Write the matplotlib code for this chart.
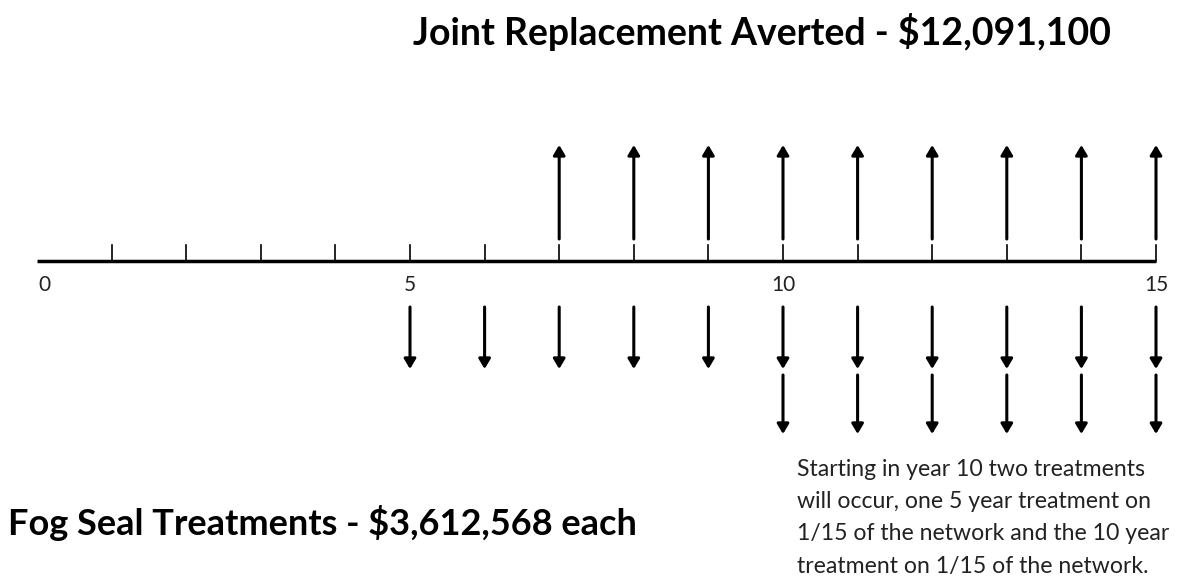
import matplotlib.pyplot as plt

# cash flow diagram, years 0..15
years = list(range(16))
joint_years = [7, 8, 9, 10, 11, 12, 13, 14, 15]
fog_5yr_years = [5, 6, 7, 8, 9, 10, 11, 12, 13, 14, 15]
fog_10yr_years = [10, 11, 12, 13, 14, 15]
labelled_years = [0, 5, 10, 15]
joint_cost = 12091100
fog_cost = 3612568
note_lines = ["Starting in year 10 two treatments",
              "will occur, one 5 year treatment on",
              "1/15 of the network and the 10 year",
              "treatment on 1/15 of the network."]

W, H = 1177, 582
plt.rcParams['font.family'] = ['Lato', 'DejaVu Sans']
fig = plt.figure(figsize=(W / 100, H / 100), dpi=100)
ax = fig.add_axes([0, 0, 1, 1])
px = (1156 - 37) / 15.0
ax.set_xlim(-37 / px, (W - 37) / px)
ax.set_ylim(H, 0)  # vertical layout in pixel rows
ax.axis('off')

axis_y = 261
# time line + ticks
ax.plot([years[0], years[-1]], [axis_y, axis_y], color='black', lw=2.5, solid_capstyle='butt')
for yr in years[1:]:
    ax.plot([yr, yr], [axis_y, axis_y - 16], color='black', lw=1.2)
for yr in labelled_years:
    ax.text(yr + (0.1 if yr == 0 else 0), axis_y + 24, str(yr), ha='center', va='center',
            fontsize=15, color='#222222')


def arrow(x, y0, y1):
    ax.annotate('', xy=(x, y1), xytext=(x, y0),
                arrowprops=dict(arrowstyle='-|>,head_length=0.42,head_width=0.25',
                                color='black', lw=2.2, shrinkA=0, shrinkB=0,
                                mutation_scale=14))


# benefit arrows (up)
for yr in joint_years:
    arrow(yr, axis_y - 22, 145)
# 5 year fog seal (down)
for yr in fog_5yr_years:
    arrow(yr, axis_y + 46, 369)
# 10 year fog seal (down, second row)
for yr in fog_10yr_years:
    arrow(yr, axis_y + 114, 434)

fig.text(762 / W, 1 - 32 / H, 'Joint Replacement Averted - ${:,}'.format(joint_cost),
         ha='center', va='center', fontsize=27, fontweight='bold')
fig.text(8 / W, 1 - 523 / H, 'Fog Seal Treatments - ${:,} each'.format(fog_cost),
         ha='left', va='center', fontsize=26, fontweight='bold')
for i, line in enumerate(note_lines):
    fig.text(797 / W, 1 - (470 + 32 * i) / H, line, ha='left', va='center',
             fontsize=16.6, color='#222222')

fig.savefig('out.png', dpi=100)
